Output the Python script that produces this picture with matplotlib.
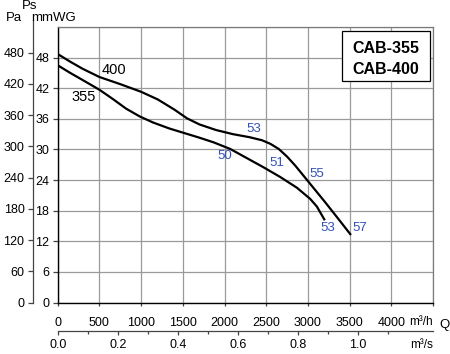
import matplotlib
matplotlib.use("Agg")
import matplotlib.pyplot as plt
from matplotlib.patches import Rectangle

# ---- data (flow in m3/h, static pressure in mmWG) ----
q_400 = [0, 150, 300, 500, 750, 1000, 1200, 1400, 1550, 1700, 1900, 2100, 2300, 2450,
         2550, 2650, 2750, 2850, 2950, 3050, 3200, 3350, 3508]
p_400 = [48.7, 47.2, 45.8, 44.2, 42.8, 41.3, 39.8, 37.8, 36.1, 34.9, 33.8, 33.0, 32.4, 31.8,
         31.1, 30.1, 28.6, 26.8, 24.8, 22.8, 19.8, 16.7, 13.4]
q_355 = [0, 150, 300, 500, 660, 820, 980, 1140, 1340, 1540, 1700, 1868, 2068,
         2268, 2468, 2668, 2868, 3028, 3108, 3196]
p_355 = [46.5, 45.0, 43.6, 41.7, 39.9, 38.0, 36.5, 35.3, 34.1, 33.1, 32.3, 31.4, 30.1,
         28.3, 26.5, 24.6, 22.5, 20.3, 18.8, 16.3]

x_ticks = [0, 500, 1000, 1500, 2000, 2500, 3000, 3500, 4000, 4500]
x_ticklabels = ["0", "500", "1000", "1500", "2000", "2500", "3000", "3500", "4000", ""]
mm_ticks = [0, 6, 12, 18, 24, 30, 36, 42, 48]
pa_ticks = [0, 60, 120, 180, 240, 300, 360, 420, 480]
ms_ticks = [0.0, 0.2, 0.4, 0.6, 0.8, 1.0]

curve_names = ["400", "355"]
curve_name_pos = [(676, 45.5), (312, 40.2)]
noise_labels = ["53", "50", "51", "55", "53", "57"]
noise_pos = [(2356, 34.0), (2008, 28.7), (2632, 27.4), (3108, 25.1), (3244, 14.6), (3622, 14.6)]
model_lines = ["CAB-355", "CAB-400"]

FONT = ["Liberation Sans", "DejaVu Sans"]
BLUE = "#3150b8"
GRID = "#9a9a9a"
TICK_FS = 9

W, H = 450, 354
fig = plt.figure(figsize=(W / 100, H / 100), dpi=100)

def fx(px):
    return px / W

def fy(py):
    return 1 - py / H

ax_l, ax_r, ax_t, ax_b = 57.7, 433.0, 27.0, 302.5
ax = fig.add_axes([fx(ax_l), fy(ax_b), (ax_r - ax_l) / W, (ax_b - ax_t) / H])
ax.set_xlim(0, 4500)
ax.set_ylim(0, 54)
ax.set_xticks(x_ticks)
ax.set_xticklabels(x_ticklabels)
ax.set_yticks(mm_ticks + [54])
ax.set_yticklabels([str(v) for v in mm_ticks] + [""])
ax.grid(True, color=GRID, lw=0.9)
ax.set_axisbelow(True)
for s in ["top", "right"]:
    ax.spines[s].set_color("#7a7a7a")
    ax.spines[s].set_linewidth(0.9)
for s in ["left", "bottom"]:
    ax.spines[s].set_color("black")
    ax.spines[s].set_linewidth(1.0)
ax.tick_params(axis="y", direction="out", length=3.6, width=0.9, pad=2.5,
               labelsize=TICK_FS, color="#444")
ax.tick_params(axis="x", direction="out", length=2.2, width=0.9, pad=8,
               labelsize=TICK_FS, color="#444")
for lab in ax.get_xticklabels() + ax.get_yticklabels():
    lab.set_family(FONT)
ax.yaxis.get_major_ticks()[-1].tick1line.set_visible(False)

ax.plot(q_400, p_400, color="black", lw=1.6, solid_joinstyle="round")
ax.plot(q_355, p_355, color="black", lw=1.6, solid_joinstyle="round")

for name, (xx, yy) in zip(curve_names, curve_name_pos):
    ax.text(xx, yy, name, fontsize=10.5, family=FONT, ha="center", va="center")
for name, (xx, yy) in zip(noise_labels, noise_pos):
    ax.text(xx, yy, name, fontsize=9.5, family=FONT, color=BLUE, ha="center", va="center")

# model box
bx0 = (342.3 - ax_l) / (ax_r - ax_l)
bx1 = (430.0 - ax_l) / (ax_r - ax_l)
by0 = (ax_b - 81.0) / (ax_b - ax_t)
by1 = (ax_b - 30.7) / (ax_b - ax_t)
ax.add_patch(Rectangle((bx0, by0), bx1 - bx0, by1 - by0, transform=ax.transAxes,
                       facecolor="white", edgecolor="black", lw=0.9, zorder=5))
cx = (386 - ax_l) / (ax_r - ax_l)
ax.text(cx, (ax_b - 48.3) / (ax_b - ax_t), model_lines[0],
        transform=ax.transAxes, ha="center", va="center", fontsize=11.5,
        fontweight="bold", family=FONT, zorder=6)
ax.text(cx, (ax_b - 69.0) / (ax_b - ax_t), model_lines[1],
        transform=ax.transAxes, ha="center", va="center", fontsize=11.5,
        fontweight="bold", family=FONT, zorder=6)

# Pa axis
pa_top = 20.0
axp = fig.add_axes([fx(ax_l), fy(ax_b), (ax_r - ax_l) / W, (ax_b - pa_top) / H])
axp.patch.set_visible(False)
axp.set_ylim(0, 54 * 9.80665 * (ax_b - pa_top) / (ax_b - ax_t))
axp.set_yticks(pa_ticks)
axp.set_xticks([])
for s in ["top", "right", "bottom"]:
    axp.spines[s].set_visible(False)
axp.spines["left"].set_position(("outward", (ax_l - 33) * 0.72))
axp.spines["left"].set_color("#444")
axp.spines["left"].set_linewidth(0.9)
axp.tick_params(axis="y", direction="out", length=3.6, width=0.9, pad=2.5,
                labelsize=TICK_FS, color="#444")
for lab in axp.get_yticklabels():
    lab.set_family(FONT)

# m3/s axis
sec = ax.secondary_xaxis((ax_b - 330.7) / (ax_b - ax_t),
                         functions=(lambda q: q / 3600.0, lambda s: s * 3600.0))
sec.set_xticks(ms_ticks)
sec.set_xticklabels(["%.1f" % v for v in ms_ticks])
sec.set_xticks([0.1, 0.3, 0.5, 0.7, 0.9, 1.1], minor=True)
sec.spines["bottom"].set_color("#444")
sec.spines["bottom"].set_linewidth(0.9)
sec.tick_params(axis="x", which="major", direction="out", length=3.0, width=0.9,
                pad=3, labelsize=TICK_FS, color="#444")
sec.tick_params(axis="x", which="minor", direction="out", length=2.0, width=0.9,
                color="#444")
for lab in sec.get_xticklabels():
    lab.set_family(FONT)

# header and unit texts
fig.text(fx(14), fy(18), "Pa", fontsize=9.5, family=FONT, ha="center", va="center")
fig.text(fx(30), fy(6), "Ps", fontsize=9.5, family=FONT, ha="center", va="center")
fig.text(fx(54), fy(18), "mmWG", fontsize=9.5, family=FONT, ha="center", va="center")
fig.text(fx(421), fy(322), "m³/h", fontsize=8.5, family=FONT, ha="center", va="center")
fig.text(fx(444), fy(325), "Q", fontsize=9.5, family=FONT, ha="center", va="center")
fig.text(fx(422), fy(345), "m³/s", fontsize=8.5, family=FONT, ha="center", va="center")

fig.savefig("out.png", dpi=100)
